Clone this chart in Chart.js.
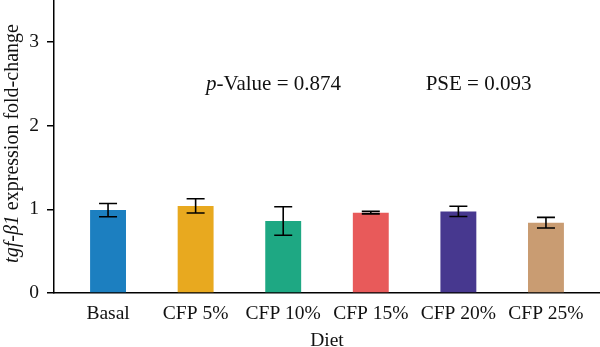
<!DOCTYPE html>
<html>
<head>
<meta charset="utf-8">
<script src="https://cdn.jsdelivr.net/npm/chart.js@4/dist/chart.umd.min.js"></script>
<style>
html,body{margin:0;padding:0;background:#fff;}
#wrap{width:600px;height:347px;}
</style>
</head>
<body>
<div id="wrap"><canvas id="c" width="600" height="347"></canvas></div>
<script>
// ---- data ----
const categories = ['Basal', 'CFP 5%', 'CFP 10%', 'CFP 15%', 'CFP 20%', 'CFP 25%'];
const means = [0.99, 1.04, 0.86, 0.96, 0.975, 0.84];
const errors = [0.08, 0.085, 0.17, 0.015, 0.062, 0.063];
const barColors = ['#1c7fc0', '#e8a91f', '#1ea883', '#e85a5a', '#47388f', '#c99c72'];
const yTicks = [0, 1, 2, 3];
const yTitleParts = [
  { text: 'tgf-β1', italic: true },
  { text: ' expression fold-change', italic: false }
];
const xTitle = 'Diet';
const annotations = [
  { parts: [{ text: 'p', italic: true }, { text: '-Value = 0.874', italic: false }], x: 1.89, y: 2.49 },
  { parts: [{ text: 'PSE = 0.093', italic: false }], x: 4.23, y: 2.49 }
];

const FAMILY = '"Liberation Serif", "Times New Roman", serif';
const TICK_SIZE = 19.5;
const ANN_SIZE = 21;

function fontStr(size, italic) {
  return (italic ? 'italic ' : '') + size + 'px ' + FAMILY;
}
function partsWidth(ctx, parts, size) {
  let w = 0;
  parts.forEach(p => { ctx.font = fontStr(size, p.italic); w += ctx.measureText(p.text).width; });
  return w;
}
function drawParts(ctx, parts, size, x, y) {
  let cx = x;
  parts.forEach(p => {
    ctx.font = fontStr(size, p.italic);
    ctx.fillText(p.text, cx, y);
    cx += ctx.measureText(p.text).width;
  });
}

const extras = {
  id: 'extras',
  afterDatasetsDraw(chart) {
    const ctx = chart.ctx;
    const xs = chart.scales.x, ys = chart.scales.y;
    ctx.save();
    ctx.strokeStyle = '#000';
    ctx.lineWidth = 1.6;
    means.forEach((m, i) => {
      const x = xs.getPixelForValue(i);
      const yt = ys.getPixelForValue(m + errors[i]);
      const yb = ys.getPixelForValue(m - errors[i]);
      const hw = 9;
      ctx.beginPath();
      ctx.moveTo(x, yt); ctx.lineTo(x, yb);
      ctx.moveTo(x - hw, yt); ctx.lineTo(x + hw, yt);
      ctx.moveTo(x - hw, yb); ctx.lineTo(x + hw, yb);
      ctx.stroke();
    });
    ctx.restore();
  },
  afterDraw(chart) {
    const ctx = chart.ctx;
    const xs = chart.scales.x, ys = chart.scales.y;
    const area = chart.chartArea;
    ctx.save();
    ctx.fillStyle = '#111';
    ctx.textBaseline = 'middle';
    ctx.textAlign = 'left';
    annotations.forEach(a => {
      const w = partsWidth(ctx, a.parts, ANN_SIZE);
      drawParts(ctx, a.parts, ANN_SIZE, xs.getPixelForValue(a.x) - w / 2, ys.getPixelForValue(a.y));
    });
    ctx.textBaseline = 'alphabetic';
    ctx.font = fontStr(TICK_SIZE, false);
    ctx.textAlign = 'center';
    ctx.fillText(xTitle, (area.left + area.right) / 2, 346);
    ctx.textAlign = 'left';
    const tw = partsWidth(ctx, yTitleParts, TICK_SIZE + 0.5);
    const cy = (area.top + area.bottom) / 2 - 3;
    ctx.translate(17.5, cy);
    ctx.rotate(-Math.PI / 2);
    drawParts(ctx, yTitleParts, TICK_SIZE + 0.5, -tw / 2, 0);
    ctx.restore();
  }
};

new Chart(document.getElementById('c'), {
  type: 'bar',
  data: {
    datasets: [{
      data: means.map((v, i) => ({ x: i, y: v })),
      backgroundColor: barColors,
      borderWidth: 0,
      barPercentage: 0.41,
      categoryPercentage: 1
    }]
  },
  options: {
    responsive: false,
    animation: false,
    layout: { padding: 0 },
    plugins: { legend: { display: false }, tooltip: { enabled: false } },
    scales: {
      x: {
        type: 'linear',
        offset: false,
        min: -0.617,
        max: 5.617,
        afterBuildTicks: s => { s.ticks = categories.map((c, i) => ({ value: i })); },
        afterFit: s => { s.height = 54; s.paddingLeft = 0; s.paddingRight = 0; },
        grid: { display: false, drawTicks: false, offset: false },
        border: { display: true, color: '#000', width: 1.5 },
        ticks: {
          autoSkip: false,
          maxRotation: 0,
          padding: 9,
          color: '#111',
          font: { family: FAMILY, size: TICK_SIZE },
          callback: v => categories[v]
        }
      },
      y: {
        min: 0,
        max: 3.5,
        afterBuildTicks: s => { s.ticks = yTicks.map(v => ({ value: v })); },
        afterFit: s => { s.width = 54; s.paddingTop = 0; s.paddingBottom = 0; },
        grid: { display: true, drawOnChartArea: false, drawTicks: true, tickLength: 7, color: '#000', lineWidth: 1.5 },
        border: { display: true, color: '#000', width: 1.5 },
        ticks: {
          padding: 8,
          color: '#111',
          font: { family: FAMILY, size: TICK_SIZE }
        }
      }
    }
  },
  plugins: [extras]
});
</script>
</body>
</html>
